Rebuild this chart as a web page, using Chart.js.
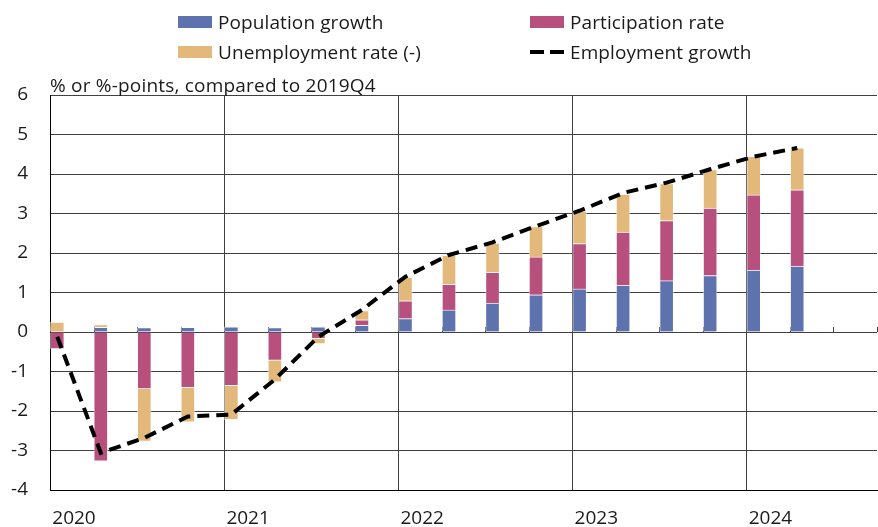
<!DOCTYPE html>
<html>
<head>
<meta charset="utf-8">
<script src="https://cdn.jsdelivr.net/npm/chart.js@4.4.1/dist/chart.umd.min.js"></script>
<style>
    html, body { margin: 0; padding: 0; background: #fff; }
    #wrap { position: relative; width: 878px; height: 527px; font-family: "Open Sans", sans-serif; color: #1a1a1a; }
    #chart { position: absolute; left: 0; top: 0; }
    #legend { position: absolute; left: 178px; top: 11px; display: grid; grid-template-columns: 352px 300px; row-gap: 8px; }
    .item { display: flex; align-items: center; height: 22px; font-size: 19px; letter-spacing: 0.1px; white-space: nowrap; }
    .box { display: inline-block; width: 34px; height: 12px; margin-right: 6px; }
    .dash { display: inline-flex; width: 34px; margin-right: 6px; justify-content: space-between; }
    .dash span { display: inline-block; width: 14px; height: 4px; background: #000; }
    #unit { position: absolute; left: 50px; top: 72px; font-size: 19px; letter-spacing: 0.2px; white-space: nowrap; }
</style>
</head>
<body>
<div id="wrap">
    <canvas id="chart" width="878" height="527"></canvas>
    <div id="legend"></div>
    <div id="unit">% or %-points, compared to 2019Q4</div>
</div>
<script>
const quarters = ['2020Q1', '2020Q2', '2020Q3', '2020Q4', '2021Q1', '2021Q2', '2021Q3', '2021Q4',
    '2022Q1', '2022Q2', '2022Q3', '2022Q4', '2023Q1', '2023Q2', '2023Q3', '2023Q4', '2024Q1', '2024Q2'];
const yearLabels = ['2020', '2021', '2022', '2023', '2024'];

const populationGrowth = [0.00, 0.12, 0.11, 0.12, 0.13, 0.11, 0.13, 0.17, 0.34, 0.56, 0.73, 0.94, 1.09, 1.18, 1.30, 1.43, 1.57, 1.67];
const participationRate = [-0.43, -3.27, -1.44, -1.41, -1.36, -0.72, -0.17, 0.14, 0.45, 0.65, 0.78, 0.96, 1.15, 1.35, 1.52, 1.71, 1.90, 1.93];
const unemploymentRate = [0.25, 0.07, -1.33, -0.87, -0.86, -0.55, -0.13, 0.23, 0.60, 0.73, 0.74, 0.77, 0.83, 0.96, 0.94, 0.97, 0.98, 1.06];
const employmentGrowth = [-0.12, -3.06, -2.68, -2.14, -2.09, -1.20, -0.12, 0.56, 1.40, 1.95, 2.27, 2.68, 3.07, 3.52, 3.78, 4.12, 4.44, 4.66];

// x axis counts months from Jan 2020; each quarter sits in the middle of its first month (like an Excel date axis)
const monthOf = (q) => (parseInt(q.slice(0, 4)) - 2020) * 12 + (parseInt(q.slice(5)) - 1) * 3 + 0.5;
const points = (values) => values.map((v, i) => ({ x: monthOf(quarters[i]), y: v }));

Chart.defaults.font.family = '"Open Sans", sans-serif';
Chart.defaults.color = '#1a1a1a';

// small tick marks on the zero line at every quarter
const zeroTicks = {
    id: 'zeroTicks',
    beforeDatasetsDraw(chart) {
        const x = chart.scales.x, y = chart.scales.y;
        const y0 = y.getPixelForValue(0);
        const c = chart.ctx;
        c.save();
        c.strokeStyle = '#404040';
        c.lineWidth = 1;
        c.beginPath();
        for (let m = 0; m <= x.max; m += 3) {
            const px = Math.round(x.getPixelForValue(m)) + 0.5;
            c.moveTo(px, y0 - 5);
            c.lineTo(px, y0);
        }
        c.stroke();
        c.restore();
    }
};

const ctx = document.getElementById('chart').getContext('2d');
const chart = new Chart(ctx, {
    type: 'bar',
    data: {
        datasets: [{
            label: 'Population growth',
            data: points(populationGrowth),
            backgroundColor: '#5e72ad',
            borderColor: 'rgba(255,255,255,0.5)',
            borderWidth: 1,
            barThickness: 14,
            stack: 'bars',
            order: 1
        }, {
            label: 'Participation rate',
            data: points(participationRate),
            backgroundColor: '#b8507e',
            borderColor: 'rgba(255,255,255,0.5)',
            borderWidth: 1,
            barThickness: 14,
            stack: 'bars',
            order: 1
        }, {
            label: 'Unemployment rate (-)',
            data: points(unemploymentRate),
            backgroundColor: '#e3b97b',
            borderColor: 'rgba(255,255,255,0.5)',
            borderWidth: 1,
            barThickness: 14,
            stack: 'bars',
            order: 1
        }, {
            type: 'line',
            label: 'Employment growth',
            data: points(employmentGrowth),
            borderColor: '#000',
            borderWidth: 4,
            borderDash: [12, 7],
            pointRadius: 0,
            tension: 0,
            fill: false,
            stack: 'line',
            order: 0
        }]
    },
    options: {
        responsive: false,
        animation: false,
        devicePixelRatio: 1,
        layout: { padding: { top: 95, right: 1, left: 0, bottom: 0 } },
        plugins: {
            legend: { display: false },
            tooltip: { enabled: false }
        },
        scales: {
            x: {
                type: 'linear',
                stacked: true,
                offset: false,
                min: 0,
                max: 57,
                afterFit: (scale) => {
                    scale.height = 37;
                    scale.paddingLeft = 0;
                    scale.paddingRight = 0;
                },
                ticks: {
                    stepSize: 3,
                    autoSkip: false,
                    maxRotation: 0,
                    labelOffset: 24,
                    padding: 17,
                    font: { size: 19 },
                    callback: (v) => (v % 12 === 0 && v / 12 < yearLabels.length) ? yearLabels[v / 12] : ''
                },
                grid: {
                    offset: false,
                    drawTicks: false,
                    color: (c) => (c.tick && c.tick.value % 12 === 0) ? '#404040' : 'rgba(0,0,0,0)'
                },
                border: { color: '#000' }
            },
            y: {
                stacked: true,
                min: -4,
                max: 6,
                afterFit: (scale) => { scale.width = 50; },
                ticks: { stepSize: 1, padding: 22, font: { size: 19 } },
                grid: { drawTicks: false, color: '#404040' },
                border: { color: '#000' }
            }
        }
    },
    plugins: [zeroTicks]
});

// legend in two columns, built from the datasets
const legendDiv = document.getElementById('legend');
[0, 1, 2, 3].forEach((i) => {
    const ds = chart.data.datasets[i];
    const item = document.createElement('div');
    item.className = 'item';
    if (ds.type === 'line') {
        item.innerHTML = '<span class="dash"><span></span><span></span></span>';
    } else {
        item.innerHTML = '<span class="box" style="background:' + ds.backgroundColor + '"></span>';
    }
    item.appendChild(document.createTextNode(ds.label));
    legendDiv.appendChild(item);
});
</script>
</body>
</html>
